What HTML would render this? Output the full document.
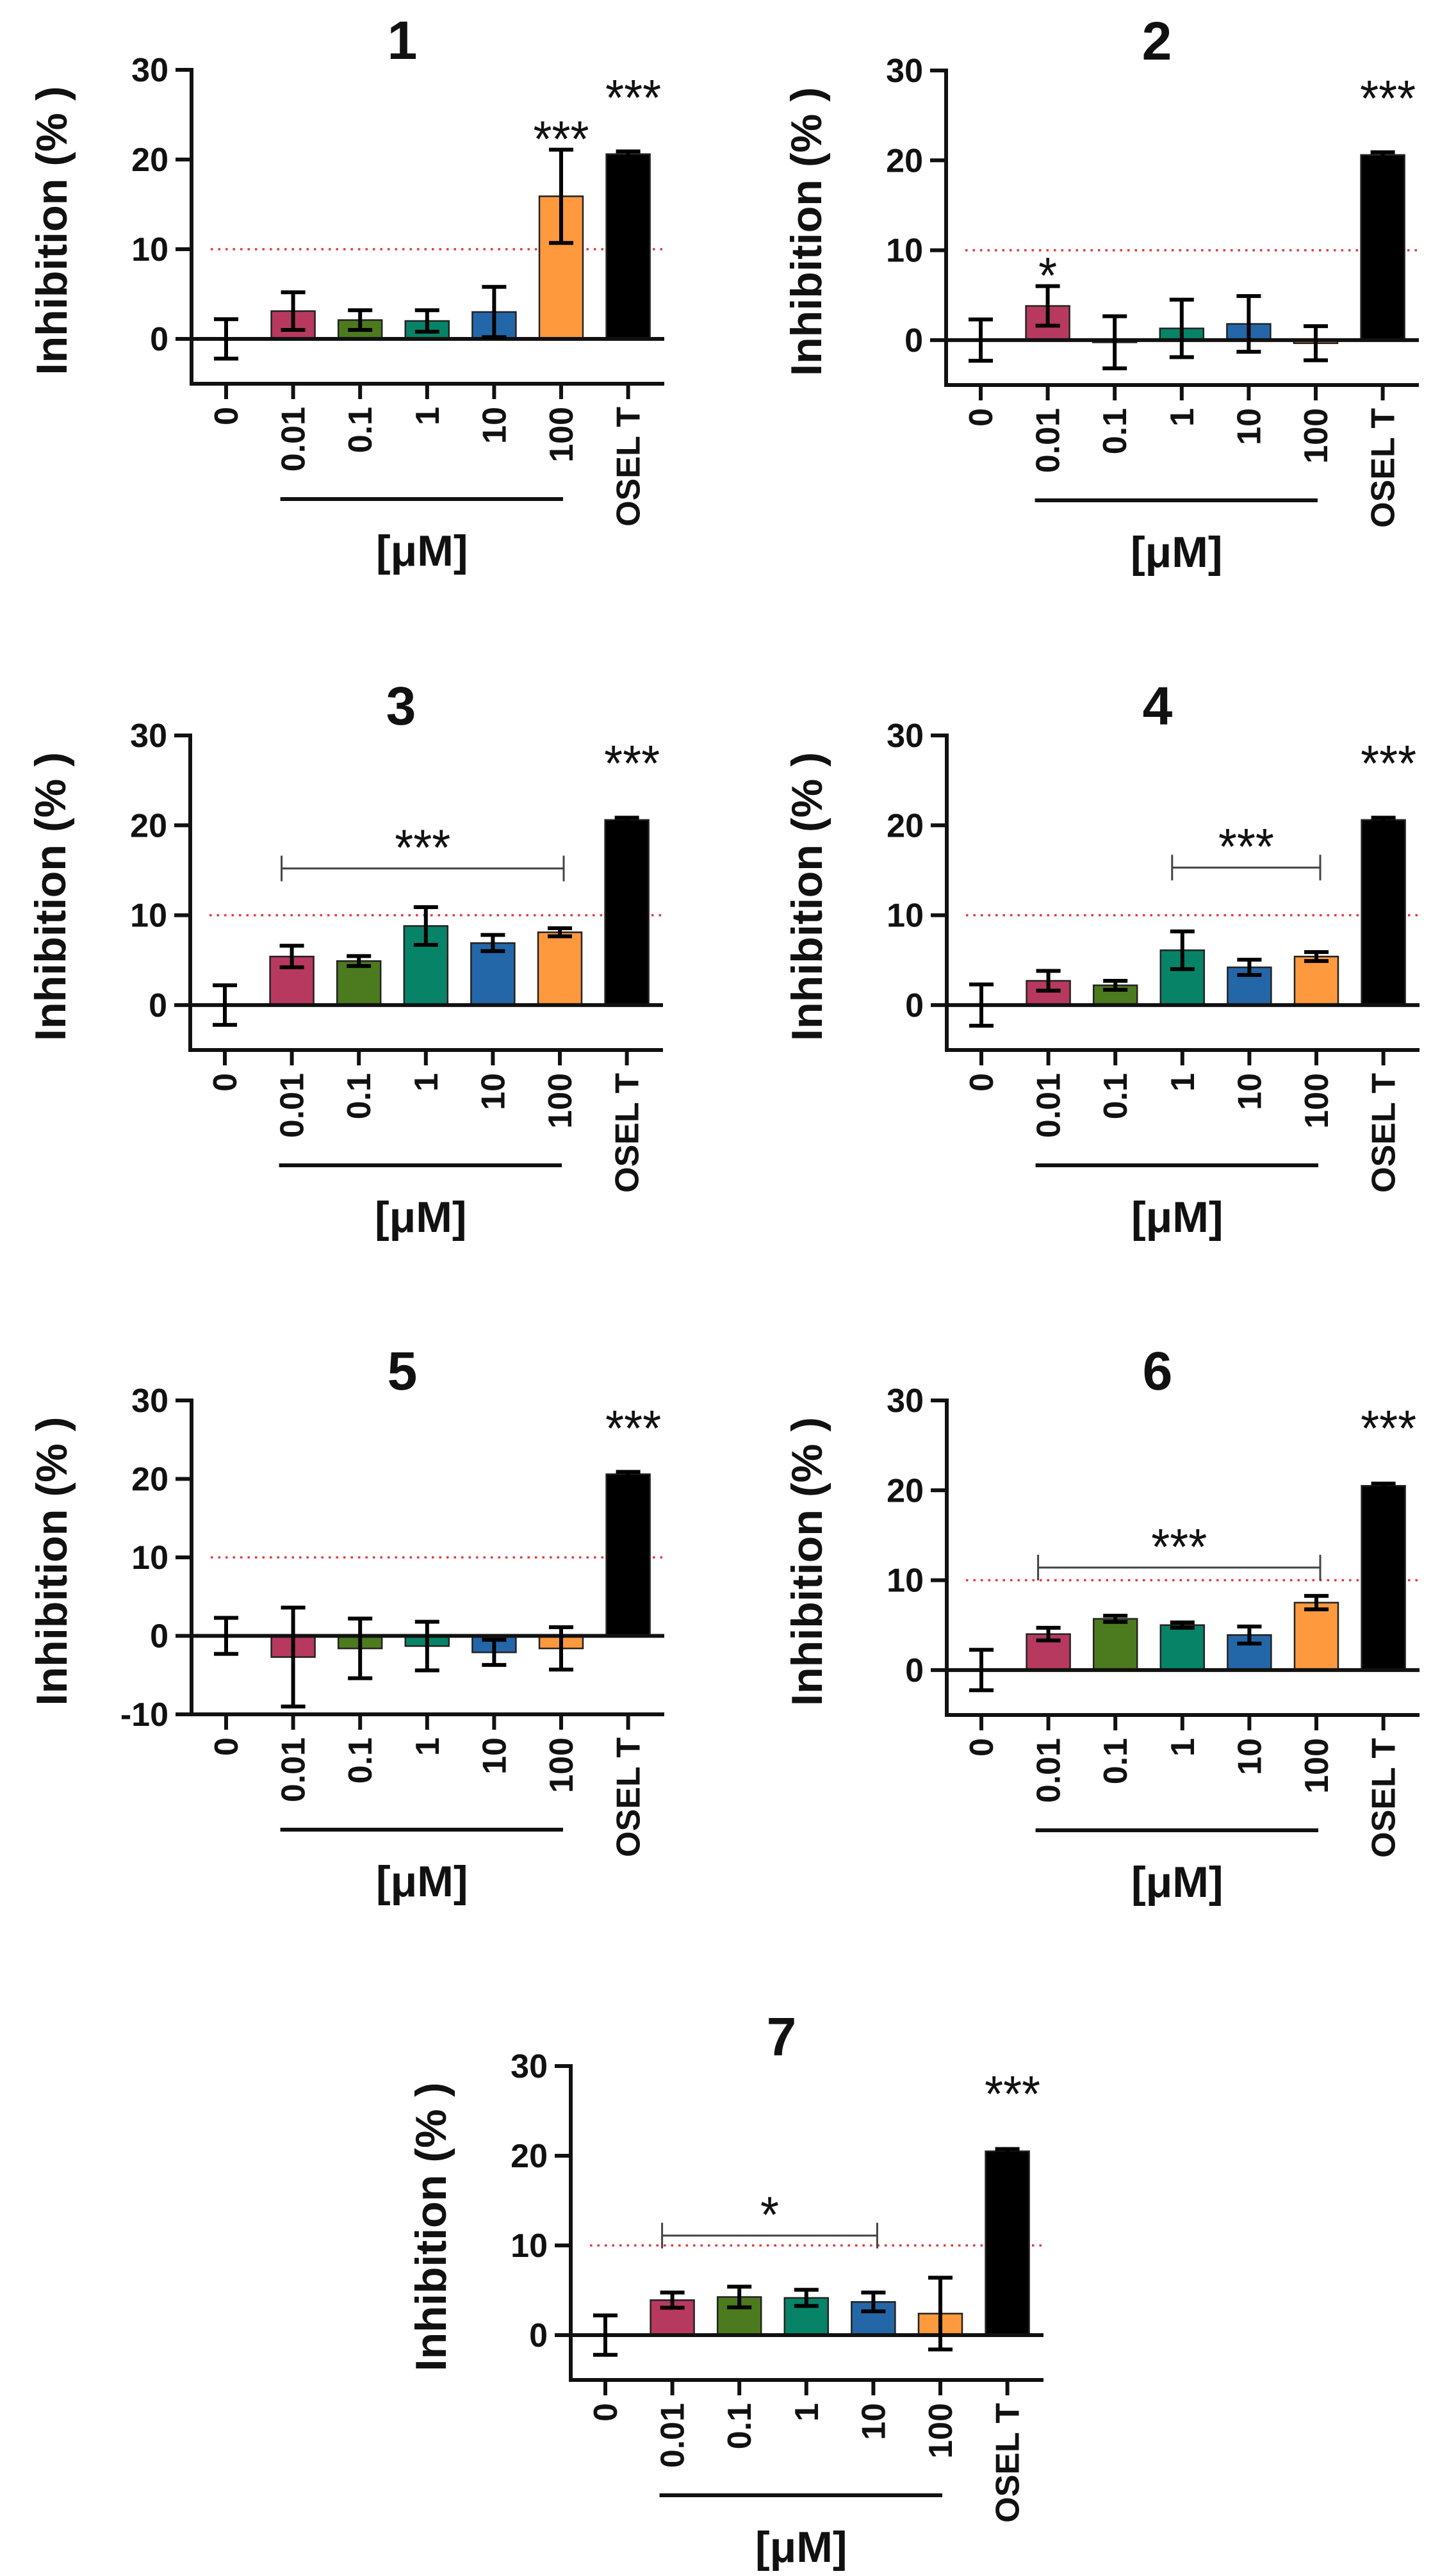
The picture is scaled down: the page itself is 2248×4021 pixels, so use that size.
<!DOCTYPE html>
<html><head><meta charset="utf-8"><style>
html,body{margin:0;padding:0;background:#fff;}
svg{display:block;}
text{font-family:"Liberation Sans",Arial,sans-serif;}
</style></head><body>
<svg id="fig" width="2248" height="4021" viewBox="0 0 2248 4021" xmlns="http://www.w3.org/2000/svg"></svg>
<script>
const categories = ["0","0.01","0.1","1","10","100","OSEL T"];
const barColors = ["none","#b8395f","#4c7a1f","#078468","#2467a8","#fe993e","#000000"];
const panelTitles = ["1","2","3","4","5","6","7"];
const p1Mean = [0,3.1,2.1,2.0,3.0,15.9,20.6];
const p1Err  = [2.2,2.1,1.1,1.2,2.8,5.2,0.3];
const p2Mean = [0,3.8,-0.25,1.3,1.8,-0.35,20.6];
const p2Err  = [2.3,2.2,2.9,3.2,3.1,1.9,0.3];
const p3Mean = [0,5.4,4.9,8.8,6.9,8.1,20.6];
const p3Err  = [2.2,1.2,0.55,2.1,0.9,0.45,0.25];
const p4Mean = [0,2.7,2.2,6.1,4.2,5.4,20.6];
const p4Err  = [2.3,1.1,0.5,2.1,0.85,0.5,0.25];
const p5Mean = [0,-2.7,-1.6,-1.3,-2.1,-1.6,20.6];
const p5Err  = [2.3,6.3,3.8,3.1,1.6,2.7,0.3];
const p6Mean = [0,4.0,5.7,5.0,3.9,7.5,20.5];
const p6Err  = [2.25,0.7,0.35,0.3,0.95,0.75,0.25];
const p7Mean = [0,3.9,4.25,4.15,3.7,2.4,20.5];
const p7Err  = [2.2,0.85,1.15,0.9,1.05,4.0,0.25];
const yTicksStd = [0,10,20,30];
const yTicks5 = [-10,0,10,20,30];
const threshold = 10;
const p1Stars = [[5,"***"],[6,"***"]];
const p2Stars = [[1,"*"],[6,"***"]];
const p3Stars = [[6,"***"]];
const p4Stars = [[6,"***"]];
const p5Stars = [[6,"***"]];
const p6Stars = [[6,"***"]];
const p7Stars = [[6,"***"]];
const p3Bracket = [1,5,15.2,"***"];
const p4Bracket = [3,5,15.3,"***"];
const p6Bracket = [1,5,11.4,"***"];
const p7Bracket = [1,4,11.1,"*"];

const NS = "http://www.w3.org/2000/svg";
const svg = document.getElementById("fig");
function mk(tag, attrs, parent){
  const e = document.createElementNS(NS, tag);
  for (const k in attrs) e.setAttribute(k, attrs[k]);
  (parent||svg).appendChild(e);
  return e;
}

function panel(cfg, means, errs, stars, bracket, ticks){
  const g = mk("g", {});
  
  
  const ax = cfg.axisX, right = cfg.axisX + 738;
  const yMin = cfg.yMin, yMax = 30;
  const y = v => cfg.xAxisY + (v - yMin) * (cfg.y30 - cfg.xAxisY) / (yMax - yMin);
  const x = i => ax + 54 + i * 104.6;

  const t = mk("text", {x: ax + 329, y: cfg.y30 - 17, "font-size": 84, "font-weight": "bold", "text-anchor": "middle", fill: "#111"}, g);
  t.textContent = cfg.title;
  
  

  const cy = (cfg.y30 + cfg.xAxisY) / 2 + 6;
  const yt = mk("text", {x: 0, y: 0, transform: `translate(${ax - 195},${cy}) rotate(-90)`, "font-size": 68, "font-weight": "bold", "text-anchor": "middle", fill: "#111", textLength: 451, lengthAdjust: "spacingAndGlyphs"}, g);
  yt.textContent = "Inhibition (% )";
  
  

  const th = mk("line", {x1: ax + 30, x2: right, y1: y(threshold), y2: y(threshold), stroke: "#e8383b", "stroke-width": 3.5, "stroke-dasharray": "3.5 8"}, g);
  
  

  ticks.forEach(v => {
    const tk = mk("line", {x1: ax - 25, x2: ax, y1: y(v), y2: y(v), stroke: "#111", "stroke-width": 6}, g);
    
    
    const tl = mk("text", {x: ax - 36, y: y(v) + 18, "font-size": 52, "font-weight": "bold", "text-anchor": "end", fill: "#111"}, g);
    tl.textContent = String(v);
    
    
  });

  means.forEach((m, i) => {
    if (barColors[i] !== "none") {
      const top = Math.min(y(m), y(0)), h = Math.abs(y(m) - y(0));
      const r = mk("rect", {x: x(i) - 34, y: top, width: 68, height: h, fill: barColors[i], stroke: "#222", "stroke-width": 2.5}, g);
      
      
    }
  });

  const yax = mk("line", {x1: ax, x2: ax, y1: cfg.y30 - 3, y2: cfg.xAxisY + 3, stroke: "#111", "stroke-width": 6}, g);
  
  
  const zl = mk("line", {x1: ax, x2: right, y1: y(0), y2: y(0), stroke: "#111", "stroke-width": 6}, g);
  
  
  const xax = mk("line", {x1: ax - 3, x2: right, y1: cfg.xAxisY, y2: cfg.xAxisY, stroke: "#111", "stroke-width": 6}, g);
  
  

  means.forEach((m, i) => {
    const hi = y(m + errs[i]), lo = y(m - errs[i]);
    const eb = mk("path", {d: `M${x(i)},${hi}V${lo}M${x(i)-19},${hi}H${x(i)+19}M${x(i)-19},${lo}H${x(i)+19}`, stroke: "#000", "stroke-width": 6, fill: "none"}, g);
    
    
  });

  categories.forEach((c, i) => {
    const tk = mk("line", {x1: x(i), x2: x(i), y1: cfg.xAxisY, y2: cfg.xAxisY + 24, stroke: "#111", "stroke-width": 6}, g);
    
    
    const lbl = mk("text", {x: 0, y: 0, transform: `translate(${x(i) + 18},${cfg.xAxisY + 36}) rotate(-90)`, "font-size": 52, "font-weight": "bold", "text-anchor": "end", fill: "#111"}, g);
    lbl.textContent = c;
    
    
  });

  const cb = mk("line", {x1: x(1) - 20, x2: x(5) + 3, y1: cfg.xAxisY + 180, y2: cfg.xAxisY + 180, stroke: "#111", "stroke-width": 6}, g);
  
  
  const um = mk("text", {x: (x(1) + x(5)) / 2 - 8, y: cfg.xAxisY + 284, "font-size": 68, "font-weight": "bold", "text-anchor": "middle", fill: "#111"}, g);
  um.textContent = "[μM]";
  
  

  stars.forEach(s => {
    const i = s[0];
    let top = (i === 6) ? cfg.y30 + 14 : y(means[i] + errs[i]) - 46;
    const st = mk("text", {x: x(i) + (i === 6 ? 8 : 0), y: top + 57, "font-size": 80, "text-anchor": "middle", fill: "#111", textLength: s[1].length * 29, lengthAdjust: "spacingAndGlyphs"}, g);
    st.textContent = s[1];
    
    
  });

  if (bracket) {
    const by = y(bracket[2]);
    const x1 = x(bracket[0]) - 16, x2 = x(bracket[1]) + 6;
    const br = mk("path", {d: `M${x1},${by - 20}V${by + 20}M${x1},${by}H${x2}M${x2},${by - 20}V${by + 20}`, stroke: "#444", "stroke-width": 3, fill: "none"}, g);
    
    
    const bs = mk("text", {x: (x1 + x2) / 2, y: by - 62 + 57, "font-size": 80, "text-anchor": "middle", fill: "#111", textLength: bracket[3].length * 29, lengthAdjust: "spacingAndGlyphs"}, g);
    bs.textContent = bracket[3];
    
    
  }
}

panel({title: panelTitles[0], axisX: 299, y30: 109, xAxisY: 599, yMin: -5}, p1Mean, p1Err, p1Stars, null, yTicksStd);
panel({title: panelTitles[1], axisX: 1477, y30: 110, xAxisY: 601, yMin: -5}, p2Mean, p2Err, p2Stars, null, yTicksStd);
panel({title: panelTitles[2], axisX: 297, y30: 1148, xAxisY: 1639, yMin: -5}, p3Mean, p3Err, p3Stars, p3Bracket, yTicksStd);
panel({title: panelTitles[3], axisX: 1478, y30: 1148, xAxisY: 1639, yMin: -5}, p4Mean, p4Err, p4Stars, p4Bracket, yTicksStd);
panel({title: panelTitles[4], axisX: 299, y30: 2186, xAxisY: 2676, yMin: -10}, p5Mean, p5Err, p5Stars, null, yTicks5);
panel({title: panelTitles[5], axisX: 1478, y30: 2186, xAxisY: 2677, yMin: -5}, p6Mean, p6Err, p6Stars, p6Bracket, yTicksStd);
panel({title: panelTitles[6], axisX: 891, y30: 3225, xAxisY: 3715, yMin: -5}, p7Mean, p7Err, p7Stars, p7Bracket, yTicksStd);
</script>
</body></html>
